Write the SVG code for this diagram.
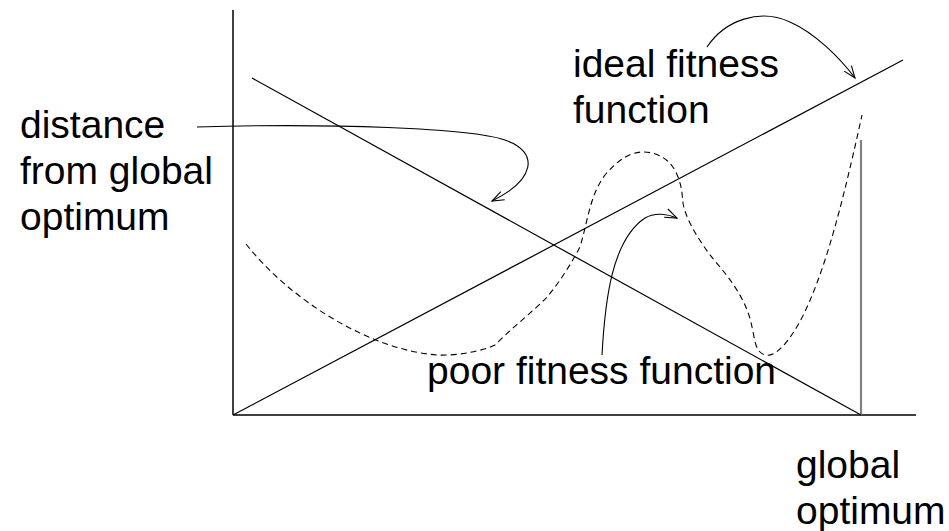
<svg xmlns="http://www.w3.org/2000/svg" width="949" height="531" viewBox="0 0 949 531">
<style>
  .ln{fill:none;stroke:#000;stroke-width:1.2}
  .ax{fill:none;stroke:#000;stroke-width:1.5}
  .dash{fill:none;stroke:#000;stroke-width:1.1;stroke-dasharray:6 4}
  .arr{fill:none;stroke:#000;stroke-width:1.1;marker-end:url(#open)}
  text{font-family:"Liberation Sans",Arial,sans-serif;font-size:39px;fill:#000}
</style>
<defs>
  <marker id="open" markerUnits="userSpaceOnUse" markerWidth="16" markerHeight="12" viewBox="-1 -6 14 12" refX="12" refY="0" orient="auto">
    <path d="M0,-4.5 L12,0 L0,4.5" fill="none" stroke="#000" stroke-width="1.1"/>
  </marker>
</defs>
<rect width="949" height="531" fill="#fff"/>
<g id="axes">
  <line class="ax" x1="233" y1="10" x2="233" y2="415"/>
  <line class="ax" x1="233" y1="415" x2="916" y2="415"/>
  <line x1="861" y1="140" x2="861" y2="415" stroke="#808080" stroke-width="2.2"/>
</g>
<g id="distance-line"><line class="ln" x1="252" y1="78" x2="861" y2="415"/></g>
<g id="ideal-line"><line class="ln" x1="233" y1="415" x2="903" y2="60"/></g>
<g id="poor-curve">
  <path class="dash" d="M246,244 C290,300 370,350 437,355 C460,356 485,350 495,345 C515,325 535,310 547,297 C560,282 572,262 580,247 C588,220 590,195 605,175 C618,160 630,152 643,152 C658,152 672,160 678,177 C683,190 682,198 683,203 C686,222 705,250 720,267 C735,285 748,305 752,327 C755,340 755,352 765,355 C775,357 785,345 793,333 C805,315 815,290 825,260 C838,220 850,170 862,115"/>
</g>
<g id="connectors">
  <path class="arr" d="M197,127 C330,123 470,128 505,140 C540,152 535,180 492,201"/>
  <path class="arr" d="M707,47 C725,20 760,8 790,22 C815,33 840,58 855,78"/>
  <path class="arr" d="M602,355 C605,300 612,240 645,218 C655,212 668,214 677,218"/>
</g>
<g id="label-distance">
  <text x="20" y="138">distance</text>
  <text x="20" y="184">from global</text>
  <text x="20" y="230">optimum</text>
</g>
<g id="label-ideal">
  <text x="573" y="77">ideal fitness</text>
  <text x="573" y="123">function</text>
</g>
<g id="label-poor">
  <text x="427" y="384">poor fitness function</text>
</g>
<g id="label-global">
  <text x="796" y="478">global</text>
  <text x="796" y="524">optimum</text>
</g>
</svg>
